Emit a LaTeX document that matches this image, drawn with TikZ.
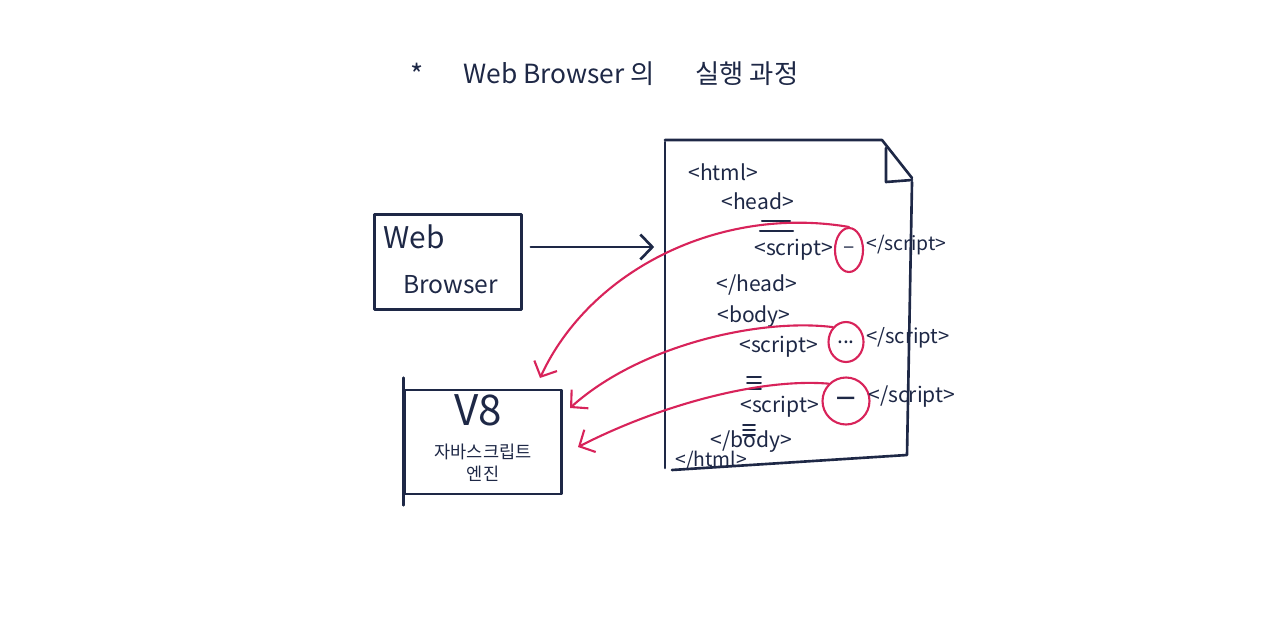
\documentclass[tikz,border=0pt]{standalone}
\usepackage{fontspec}
\setmainfont{Noto Sans CJK KR}
\usetikzlibrary{arrows.meta,shapes.geometric}

\definecolor{ink}{HTML}{1E2846}
\definecolor{pen}{HTML}{D8235A}

\tikzset{
  inkline/.style={draw=ink, line width=1.5pt, line cap=round, line join=round},
  redline/.style={draw=pen, line width=1.2pt, line cap=round},
  redarrow/.style={redline, -{Straight Barb[length=2.4mm,width=5mm]}},
  codetext/.style={text=ink, anchor=west, inner sep=0pt, font=\fontsize{12}{14}\selectfont},
  ring/.style={ellipse, draw=pen, line width=1.2pt, inner sep=0pt, text=ink, font=\fontsize{12}{14}\selectfont},
}

\begin{document}
\begin{tikzpicture}[x=0.02cm, y=-0.02cm]
\useasboundingbox (0,0) rectangle (1280,635);

% title
\node[text=ink, font=\fontsize{16}{18}\selectfont] (star) at (417,74) {*};
\node[text=ink, anchor=west, inner sep=0pt, font=\fontsize{15}{18}\selectfont] (title1) at (463,74) {Web Browser 의};
\node[text=ink, anchor=west, inner sep=0pt, font=\fontsize{15}{18}\selectfont] (title2) at (695,74) {실행 과정};

% web browser box
\node[inkline, minimum width=2.94cm, minimum height=1.9cm] (browser) at (448,262) {};
\node[text=ink, anchor=west, inner sep=0pt, font=\fontsize{17}{20}\selectfont] (web) at (383,237) {Web};
\node[text=ink, anchor=west, inner sep=0pt, font=\fontsize{14}{16}\selectfont] (brw) at (403,285) {Browser};

% v8 box
\node[inkline, minimum width=3.14cm, minimum height=2.08cm] (v8) at (483,442) {};
\draw[inkline] ([yshift=0.22cm]v8.north west) -- ([yshift=-0.2cm]v8.south west);
\node[text=ink, inner sep=0pt, font=\fontsize{24}{28}\selectfont] (v8name) at (478,410) {V8};
\node[text=ink, inner sep=0pt, font=\fontsize{10}{12}\selectfont] (jsname) at (483,452) {자바스크립트};
\node[text=ink, inner sep=0pt, font=\fontsize{10}{12}\selectfont] (engname) at (483,474) {엔진};

% html document
\node[minimum width=4.94cm, minimum height=6.6cm] (doc) at (788,305) {};
\draw[inkline] (665,142) -- (665,468);
\draw[inkline] (665,140) -- (882,140) -- (912,178);
\draw[inkline] (886,148) -- (886,182) -- (912,180);
\draw[inkline] (912,182) -- (907,455) -- (672,470);

\node[codetext] (html) at (688,172) {<html>};
\node[codetext] (head) at (721,201) {<head>};
\draw[inkline, line width=1.2pt] (762,221) -- (790,221);
\draw[inkline, line width=1.2pt] (760,231) -- (793,231);
\node[codetext] (s1) at (754,250) {<script>};
\node[ring, minimum width=0.56cm, minimum height=0.88cm] (c1) at (849,250) {–};
\node[codetext, font=\fontsize{11}{13}\selectfont] (e1) at (866,245) {</script>};
\node[codetext] (ehead) at (716,285) {</head>};
\node[codetext] (body) at (717,317) {<body>};
\node[codetext] (s2) at (739,347) {<script>};
\node[ring, minimum width=0.7cm, minimum height=0.8cm] (c2) at (846,342) {...};
\node[codetext, font=\fontsize{11.5}{13}\selectfont] (e2) at (866,338) {</script>};
\foreach \y in {377,383,389}
  \draw[inkline, line width=1.1pt] (747,\y) -- (761,\y);
\node[codetext] (s3) at (740,407) {<script>};
\node[ring, minimum width=0.94cm, minimum height=0.94cm] (c3) at (846,401) {\textbf{—}};
\node[codetext] (e3) at (868,397) {</script>};
\foreach \y in {425,430,435}
  \draw[inkline, line width=1.1pt] (743,\y) -- (755,\y);
\node[codetext] (ebody) at (710,442) {</body>};
\node[codetext, font=\fontsize{11}{13}\selectfont] (ehtml) at (675,461) {</html>};

% browser loads document
\coordinate (bout) at ([shift={(8,-15)}]browser.east);
\draw[inkline, -{Straight Barb[length=2.4mm,width=5mm]}, shorten >=0.2cm] (bout) -- (bout -| doc.west);

% scripts handed to the engine
\coordinate (in1) at (540,378);
\coordinate (in2) at (570,408);
\coordinate (in3) at (578,447);
\draw[redarrow] (c1.north) .. controls (720,205) and (590,270) .. (in1);
\draw[redarrow] (c2.north west) .. controls (760,318) and (640,345) .. (in2);
\draw[redarrow] (c3.north west) .. controls (760,378) and (660,405) .. (in3);
\end{tikzpicture}
\end{document}
